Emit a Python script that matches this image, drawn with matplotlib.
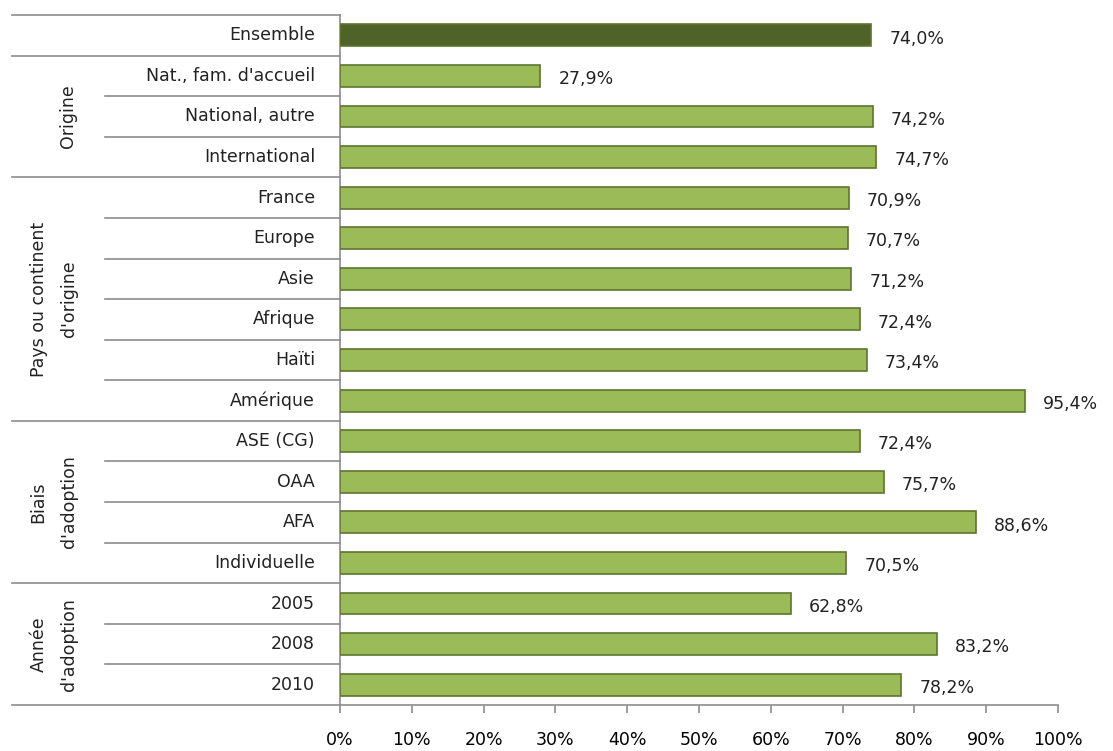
import numpy as np
import matplotlib.pyplot as plt

# Data
categories = ["Ensemble", "Nat., fam. d'accueil", "National, autre", "International",
              "France", "Europe", "Asie", "Afrique", "Haïti", "Amérique",
              "ASE (CG)", "OAA", "AFA", "Individuelle",
              "2005", "2008", "2010"]
values = [74.0, 27.9, 74.2, 74.7,
          70.9, 70.7, 71.2, 72.4, 73.4, 95.4,
          72.4, 75.7, 88.6, 70.5,
          62.8, 83.2, 78.2]
groups = ["Origine", "Pays ou continent\nd'origine", "Biais\nd'adoption", "Année\nd'adoption"]
group_sizes = [3, 6, 4, 3]

dark = '#4F6228'
light = '#9BBB59'
edge = '#5E7530'
line_col = '#8C8C8C'
fs = 12.5

fig = plt.figure(figsize=(11.13, 7.51), dpi=100)
W, H = 1113, 751
x0, x1, ytop, ybot = 340, 1058, 15, 705
ax = fig.add_axes([x0 / W, 1 - ybot / H, (x1 - x0) / W, (ybot - ytop) / H])

y = np.arange(len(categories))
colors = [dark] + [light] * (len(categories) - 1)
ax.barh(y, values, height=0.54, color=colors, edgecolor=edge, linewidth=1.2, zorder=3)

for yi, v in zip(y, values):
    ax.text(v + 2.5, yi + 0.08, f"{v:.1f}%".replace('.', ','), va='center', ha='left',
            fontsize=fs, color='#222222')

ax.set_xlim(0, 100)
ax.set_ylim(len(categories) - 0.5, -0.5)
ax.set_xticks(np.arange(0, 101, 10))
ax.set_xticklabels([f"{t}%" for t in range(0, 101, 10)], fontsize=fs)
ax.tick_params(axis='x', length=6, width=1.2, color=line_col, pad=13)
ax.set_yticks([])
for s in ['top', 'right']:
    ax.spines[s].set_visible(False)
for s in ['left', 'bottom']:
    ax.spines[s].set_color(line_col)
    ax.spines[s].set_linewidth(1.2)

tr = ax.get_yaxis_transform()
x_full = (12 - x0) / (x1 - x0)
x_inner = (105 - x0) / (x1 - x0)
x_lab = (315 - x0) / (x1 - x0)

# category labels
for yi, c in zip(y, categories):
    ax.text(x_lab, yi, c, transform=tr, ha='right', va='center', fontsize=fs, color='#222222')

# separators
bounds_full = [-0.5, 0.5]
start = 1
for g, n in zip(groups, group_sizes):
    for k in range(1, n):
        b = start + k - 0.5
        ax.plot([x_inner, 0], [b, b], transform=tr, color=line_col, lw=1.2, clip_on=False)
    bounds_full.append(start + n - 0.5)
    xg = (68 - x0) / (x1 - x0) if '\n' not in g else (54 - x0) / (x1 - x0)
    ax.text(xg, start + (n - 1) / 2, g, transform=tr, rotation=90, ha='center', va='center',
            fontsize=fs, color='#222222', multialignment='center', linespacing=1.9)
    start += n
for b in bounds_full:
    ax.plot([x_full, 0], [b, b], transform=tr, color=line_col, lw=1.2, clip_on=False)

fig.savefig('out.png', dpi=100)
